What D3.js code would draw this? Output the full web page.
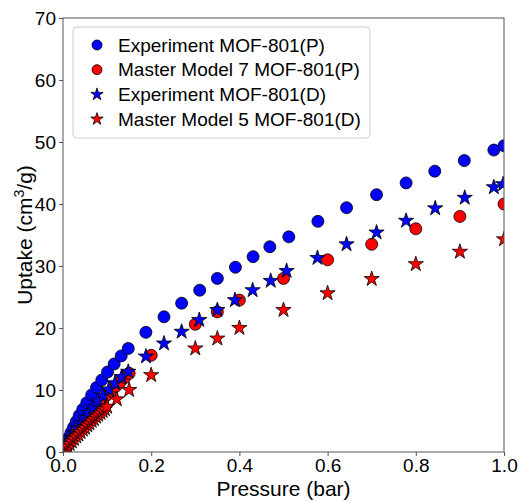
<!DOCTYPE html>
<html>
<head>
<meta charset="utf-8">
<script src="https://cdn.jsdelivr.net/npm/d3@7"></script>
<style>
  body { margin: 0; background: #fff; }
  text { font-family: "Liberation Sans", Arial, sans-serif; fill: #000; }
</style>
</head>
<body>
<svg id="chart"></svg>
<script>
var width = 525,
    height = 502;

var margin = {left: 63, right: 21, top: 18, bottom: 50};

// pressure (bar) / uptake (cm3/g)
var expP_x = [0.002,0.005,0.009,0.013,0.018,0.024,0.030,0.037,0.045,0.054,0.065,0.076,0.088,0.101,0.116,0.132,0.148,0.188,0.229,0.269,0.310,0.350,0.391,0.431,0.469,0.512,0.578,0.643,0.711,0.778,0.843,0.910,0.977,1.0];
var expP_y = [0.4,0.9,1.6,2.3,3.1,4.0,4.9,5.9,6.9,7.95,9.2,10.4,11.6,12.9,14.2,15.5,16.7,19.3,21.8,24.0,26.1,28.0,29.8,31.5,33.1,34.7,37.2,39.4,41.5,43.4,45.3,47.0,48.7,49.4];

var modP_x = [0.005,0.01,0.02,0.03,0.04,0.05,0.06,0.07,0.08,0.09,0.10,0.11,0.12,0.13,0.14,0.15,0.20,0.30,0.35,0.40,0.50,0.60,0.70,0.80,0.90,1.0];
var modP_y = [0.6,1.1,2.2,3.2,4.1,5.0,5.9,6.8,7.6,8.4,9.2,9.9,10.6,11.3,12.0,12.7,15.6,20.6,22.6,24.5,28.0,31.0,33.5,36.0,38.0,40.0];

var expD_x = [0.002,0.005,0.009,0.014,0.020,0.026,0.033,0.041,0.049,0.058,0.068,0.079,0.091,0.104,0.118,0.133,0.148,0.188,0.229,0.269,0.309,0.350,0.390,0.430,0.471,0.507,0.577,0.643,0.711,0.778,0.844,0.911,0.977,0.998];
var expD_y = [0.3,0.6,1.1,1.7,2.3,3.0,3.8,4.6,5.4,6.3,7.2,8.2,9.1,10.1,11.1,12.1,12.95,15.4,17.5,19.4,21.3,22.9,24.5,26.1,27.6,29.2,31.3,33.5,35.4,37.3,39.3,41.0,42.7,43.2];

var modD_x = [0.005,0.01,0.015,0.02,0.025,0.03,0.035,0.04,0.045,0.05,0.055,0.06,0.065,0.07,0.075,0.08,0.085,0.09,0.095,0.10,0.122,0.15,0.20,0.30,0.35,0.40,0.50,0.60,0.70,0.80,0.90,1.0];
var modD_y = [0.4,0.9,1.3,1.7,2.1,2.5,2.8,3.2,3.6,3.9,4.3,4.6,5.0,5.3,5.7,6.0,6.3,6.6,6.9,7.3,8.5,10.0,12.4,16.7,18.3,20.0,22.9,25.6,27.9,30.3,32.3,34.3];

var seriesNames = ["Experiment MOF-801(P)", "Master Model 7 MOF-801(P)", "Experiment MOF-801(D)", "Master Model 5 MOF-801(D)"];
var seriesColors = ["#0000ff", "#ff0000", "#0000ff", "#ff0000"];
var seriesShapes = ["circle", "circle", "star", "star"];

var xTicks = [0, 0.2, 0.4, 0.6, 0.8, 1.0];
var yTicks = [0, 10, 20, 30, 40, 50, 60, 70];

var series = [
  {x: expP_x, y: expP_y},
  {x: modP_x, y: modP_y},
  {x: expD_x, y: expD_y},
  {x: modD_x, y: modD_y}
];

var svg = d3.select("#chart")
    .attr("width", width)
    .attr("height", height);

var x = d3.scaleLinear().domain([0, 1]).range([margin.left, width - margin.right]);
var y = d3.scaleLinear().domain([0, 70]).range([height - margin.bottom, margin.top]);

// star like matplotlib's '*'
function starPath(R) {
  var r = R * 0.382, pts = [];
  for (var i = 0; i < 10; i++) {
    var a = -Math.PI / 2 + i * Math.PI / 5;
    var rr = (i % 2 == 0) ? R : r;
    pts.push([rr * Math.cos(a), rr * Math.sin(a)]);
  }
  return "M" + pts.map(function(p) { return p[0].toFixed(2) + "," + p[1].toFixed(2); }).join("L") + "Z";
}

function drawMarker(g, shape, color, size) {
  if (shape == "circle") {
    g.append("circle").attr("r", size)
      .style("fill", color).style("stroke", "#000").style("stroke-width", 0.8);
  } else {
    g.append("path").attr("d", starPath(size))
      .style("fill", color).style("stroke", "#000").style("stroke-width", 0.8)
      .style("stroke-linejoin", "miter");
  }
}

svg.append("clipPath").attr("id", "plotclip")
  .append("rect")
    .attr("x", margin.left).attr("y", margin.top)
    .attr("width", width - margin.left - margin.right)
    .attr("height", height - margin.top - margin.bottom);

var plot = svg.append("g").attr("clip-path", "url(#plotclip)");

series.forEach(function(s, si) {
  var pts = s.x.map(function(v, i) { return [v, s.y[i]]; });
  plot.append("g").selectAll("g")
    .data(pts)
    .enter().append("g")
      .attr("transform", function(d) { return "translate(" + x(d[0]) + "," + y(d[1]) + ")"; })
      .each(function() {
        drawMarker(d3.select(this), seriesShapes[si], seriesColors[si], seriesShapes[si] == "circle" ? 6 : 8);
      });
});

// axes
var xAxis = svg.append("g")
    .attr("transform", "translate(0," + (height - margin.bottom) + ")")
    .call(d3.axisBottom(x).tickValues(xTicks).tickFormat(d3.format(".1f")).tickSizeOuter(0).tickSize(4).tickPadding(3));
var yAxis = svg.append("g")
    .attr("transform", "translate(" + margin.left + ",0)")
    .call(d3.axisLeft(y).tickValues(yTicks).tickFormat(d3.format("d")).tickSizeOuter(0).tickSize(4).tickPadding(3));

[xAxis, yAxis].forEach(function(a) {
  a.select(".domain").remove();
  a.selectAll(".tick line").style("stroke", "#555");
  a.selectAll(".tick text").style("font-size", "19px").style("font-family", "'Liberation Sans', Arial, sans-serif").style("fill", "#000");
});

// frame
svg.append("rect")
    .attr("x", margin.left).attr("y", margin.top)
    .attr("width", width - margin.left - margin.right)
    .attr("height", height - margin.top - margin.bottom)
    .style("fill", "none").style("stroke", "#555").style("stroke-width", 1);

// axis labels
svg.append("text")
    .attr("x", (x(0) + x(1)) / 2).attr("y", 496)
    .attr("text-anchor", "middle")
    .style("font-size", "21px")
    .text("Pressure (bar)");

var ylab = svg.append("text")
    .attr("transform", "translate(32," + ((y(0) + y(70)) / 2) + ") rotate(-90)")
    .attr("text-anchor", "middle")
    .style("font-size", "21px");
ylab.append("tspan").text("Uptake (cm");
ylab.append("tspan").attr("dy", -8).style("font-size", "14px").text("3");
ylab.append("tspan").attr("dy", 8).text("/g)");

// legend
var legend = svg.append("g");
legend.append("rect")
    .attr("x", 73).attr("y", 27).attr("width", 297).attr("height", 111)
    .attr("rx", 4)
    .style("fill", "#fff").style("fill-opacity", 0.8)
    .style("stroke", "#ccc").style("stroke-width", 1);

seriesNames.forEach(function(name, i) {
  var row = legend.append("g").attr("transform", "translate(0," + (45 + i * 24.7) + ")");
  var m = row.append("g").attr("transform", "translate(97,0)");
  drawMarker(m, seriesShapes[i], seriesColors[i], seriesShapes[i] == "circle" ? 5 : 6.5);
  row.append("text")
      .attr("x", 118).attr("y", 0).attr("dy", "0.35em")
      .style("font-size", "19px")
      .text(name);
});
</script>
</body>
</html>
